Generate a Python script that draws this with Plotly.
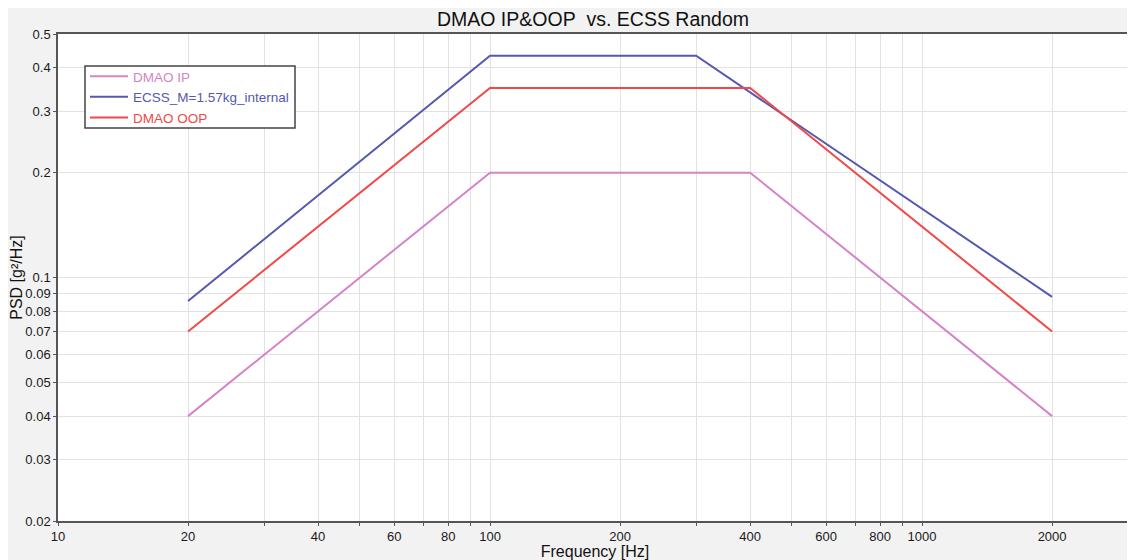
import plotly.graph_objects as go

# Data
freq_ip = [20, 100, 400, 2000]
psd_ip = [0.04, 0.2, 0.2, 0.04]

freq_ecss = [20, 100, 300, 2000]
psd_ecss = [0.0856, 0.433, 0.433, 0.088]

freq_oop = [20, 100, 400, 2000]
psd_oop = [0.07, 0.35, 0.35, 0.07]

x_tickvals = [10, 20, 30, 40, 50, 60, 70, 80, 90, 100, 200, 300, 400, 500, 600, 700, 800, 900, 1000, 2000]
x_ticktext = ["10", "20", "", "40", "", "60", "", "80", "", "100", "200", "", "400", "", "600", "", "800", "", "1000", "2000"]
y_tickvals = [0.02, 0.03, 0.04, 0.05, 0.06, 0.07, 0.08, 0.09, 0.1, 0.2, 0.3, 0.4, 0.5]
y_ticktext = ["0.02", "0.03", "0.04", "0.05", "0.06", "0.07", "0.08", "0.09", "0.1", "0.2", "0.3", "0.4", "0.5"]

C_IP = "#d484c8"
C_ECSS = "#5459b0"
C_OOP = "#f24848"

SANS = "Liberation Sans, Arial, sans-serif"

fig = go.Figure()
fig.add_trace(go.Scatter(x=freq_ip, y=psd_ip, mode="lines",
                         line=dict(color=C_IP, width=2),
                         name=f'<span style="color:{C_IP}">DMAO IP</span>'))
fig.add_trace(go.Scatter(x=freq_ecss, y=psd_ecss, mode="lines",
                         line=dict(color=C_ECSS, width=2),
                         name=f'<span style="color:{C_ECSS}">ECSS_M=1.57kg_internal</span>'))
fig.add_trace(go.Scatter(x=freq_oop, y=psd_oop, mode="lines",
                         line=dict(color=C_OOP, width=2),
                         name=f'<span style="color:{C_OOP}">DMAO OOP</span>'))

# figure is offset by the page's 8px body margin
W, H = 1127, 552
L, T = 50, 26
PR, PB = 1124, 513
R, B = W - PR, H - PB
pw, ph = PR - L, PB - T


def px(x):
    return (x - L) / pw


def py(y):
    return (PB - y) / ph


# legend frame
shapes = [
    dict(type="rect", xref="paper", yref="paper", layer="above",
         x0=px(77), x1=px(287), y0=py(120), y1=py(58),
         fillcolor="white", line=dict(color="#444", width=1.5)),
]

fig.update_layout(
    width=W, height=H,
    margin=dict(l=L, r=R, t=T, b=B, pad=0, autoexpand=False),
    paper_bgcolor="#f1f2f1",
    plot_bgcolor="white",
    shapes=shapes,
    title=dict(text="DMAO IP&OOP\u00a0 vs. ECSS Random",
               x=585 / W, xanchor="center", xref="container",
               y=1 - 11 / H, yanchor="middle", yref="container",
               font=dict(family=SANS, size=19.5, color="#111")),
    showlegend=True,
    legend=dict(x=px(77), y=py(53), xanchor="left", yanchor="top",
                bgcolor="rgba(0,0,0,0)", borderwidth=0,
                font=dict(family=SANS, size=13.5, color="#333"),
                tracegroupgap=0, itemwidth=38),
    xaxis=dict(type="log", range=[1, 3.486], automargin=False,
               tickvals=x_tickvals, ticktext=x_ticktext,
               showgrid=True, gridcolor="#e2e2e2", gridwidth=1,
               showline=True, linecolor="#555", linewidth=1.5, mirror=True,
               ticks="outside", ticklen=3, tickcolor="#555",
               tickfont=dict(family=SANS, size=13, color="#1a1a1a"),
               title=dict(text="Frequency [Hz]", standoff=2,
                          font=dict(family=SANS, size=16, color="#111")),
               zeroline=False),
    yaxis=dict(type="log", range=[-1.69897, -0.30103], automargin=False,
               tickvals=y_tickvals, ticktext=y_ticktext,
               showgrid=True, gridcolor="#e2e2e2", gridwidth=1,
               showline=True, linecolor="#555", linewidth=1.5, mirror=True,
               ticks="outside", ticklen=3, tickcolor="#555",
               tickfont=dict(family=SANS, size=13, color="#1a1a1a"),
               title=dict(text="PSD [g²/Hz]", standoff=2,
                          font=dict(family=SANS, size=16, color="#111")),
               zeroline=False),
)

fig.write_html("out.html")
